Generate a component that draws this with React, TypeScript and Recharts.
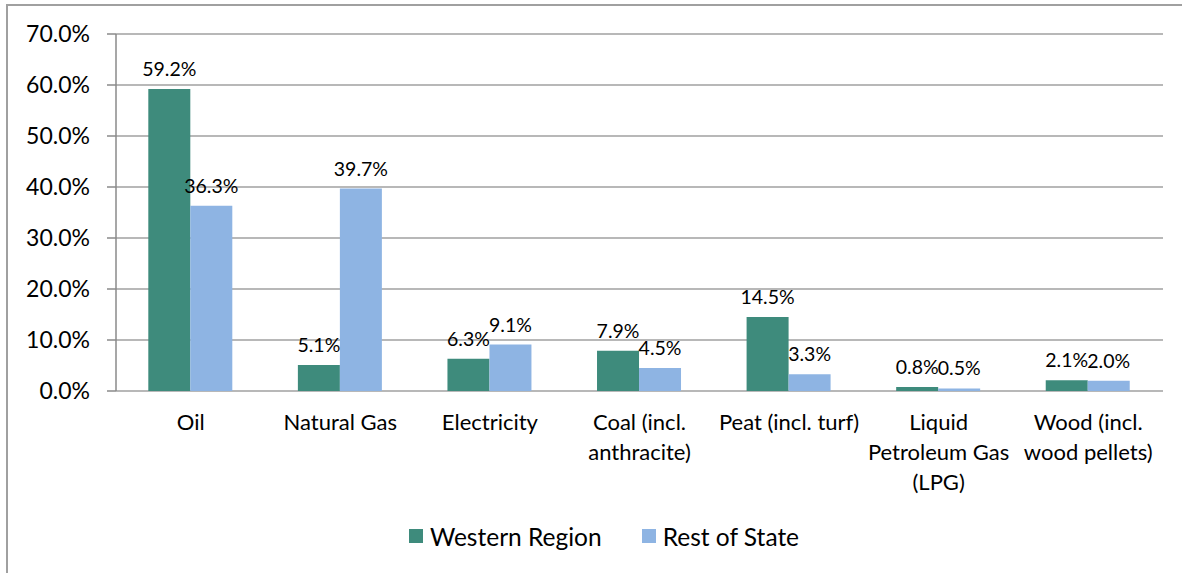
import {
  BarChart,
  Bar,
  XAxis,
  YAxis,
  CartesianGrid,
  Legend,
  LabelList,
} from 'recharts';

// categories (line breaks follow the wrapping in the original chart)
const categories = [
  'Oil',
  'Natural Gas',
  'Electricity',
  'Coal (incl.\nanthracite)',
  'Peat (incl. turf)',
  'Liquid\nPetroleum Gas\n(LPG)',
  'Wood (incl.\nwood pellets)',
];
const westernRegion = [59.2, 5.1, 6.3, 7.9, 14.5, 0.8, 2.1];
const restOfState = [36.3, 39.7, 9.1, 4.5, 3.3, 0.5, 2.0];
const yTicks = [0, 10, 20, 30, 40, 50, 60, 70];
const edgeTicks = [0, 1, 2, 3, 4, 5, 6, 7];

const data = categories.map((category, i) => ({
  category,
  western: westernRegion[i],
  rest: restOfState[i],
}));

const FONT = 'Lato, Carlito, Calibri, sans-serif';
const GREEN = '#3e8b7c';
const BLUE = '#8eb4e3';
const GRID = '#a0a0a0';
const AXIS = '#8a8a8a';

const pct = (v: number) => `${Number(v).toFixed(1)}%`;

function CategoryTick({ x, y, payload }: any) {
  const lines = String(payload.value).split('\n');
  return (
    <text x={x} y={y} textAnchor="middle" fill="#000" fontSize={22} fontFamily={FONT}>
      {lines.map((line, i) => (
        <tspan key={i} x={x} dy={i === 0 ? 39 : 30}>
          {line}
        </tspan>
      ))}
    </text>
  );
}

function LegendContent() {
  const items = [
    { label: 'Western Region', color: GREEN },
    { label: 'Rest of State', color: BLUE },
  ];
  return (
    <div
      style={{
        display: 'flex',
        justifyContent: 'center',
        alignItems: 'center',
        height: 44,
        paddingLeft: 45,
        fontFamily: FONT,
        fontSize: 24.5,
        color: '#000',
      }}
    >
      {items.map((it, i) => (
        <div
          key={it.label}
          style={{ display: 'flex', alignItems: 'center', marginLeft: i ? 40 : 0 }}
        >
          <span
            style={{ width: 14, height: 14, background: it.color, marginRight: 7, display: 'inline-block' }}
          />
          <span>{it.label}</span>
        </div>
      ))}
    </div>
  );
}

export default function App() {
  return (
    <div style={{ position: 'absolute', left: 0, top: 0, width: 1182, height: 573, overflow: 'hidden', background: '#fff' }}>
      <div
        style={{
          position: 'absolute',
          left: 6,
          top: 4,
          width: 1200,
          height: 620,
          border: '2px solid #a0a0a0',
        }}
      />
      <div style={{ position: 'absolute', left: 0, top: 0 }}>
        <BarChart
          width={1182}
          height={573}
          data={data}
          margin={{ top: 34, right: 19, left: 0, bottom: 15 }}
          barCategoryGap="21.6%"
          barGap={0}
        >
          <CartesianGrid vertical={false} stroke={GRID} strokeWidth={1.5} />
          <XAxis
            xAxisId="edges"
            type="number"
            domain={[0, 7]}
            ticks={edgeTicks}
            tick={false}
            tickSize={7}
            tickLine={{ stroke: AXIS, strokeWidth: 1.5 }}
            axisLine={{ stroke: AXIS, strokeWidth: 1.5 }}
            height={0}
            allowDataOverflow
          />
          <XAxis
            xAxisId="cat"
            dataKey="category"
            interval={0}
            axisLine={false}
            tickLine={false}
            tickSize={0}
            tickMargin={0}
            height={123}
            tick={<CategoryTick />}
          />
          <YAxis
            width={116}
            domain={[0, 70]}
            ticks={yTicks}
            tickFormatter={pct}
            tickSize={9}
            tickMargin={17}
            tickLine={{ stroke: AXIS, strokeWidth: 1.5 }}
            axisLine={{ stroke: AXIS, strokeWidth: 1.5 }}
            tick={{ fill: '#000', fontSize: 23, fontFamily: FONT }}
          />
          <Legend verticalAlign="bottom" height={44} content={<LegendContent />} />
          <Bar xAxisId="cat" dataKey="western" name="Western Region" fill={GREEN} isAnimationActive={false}>
            <LabelList dataKey="western" position="top" offset={13} formatter={pct} fill="#000" fontSize={19.5} fontFamily={FONT} />
          </Bar>
          <Bar xAxisId="cat" dataKey="rest" name="Rest of State" fill={BLUE} isAnimationActive={false}>
            <LabelList dataKey="rest" position="top" offset={13} formatter={pct} fill="#000" fontSize={19.5} fontFamily={FONT} />
          </Bar>
        </BarChart>
      </div>
    </div>
  );
}
